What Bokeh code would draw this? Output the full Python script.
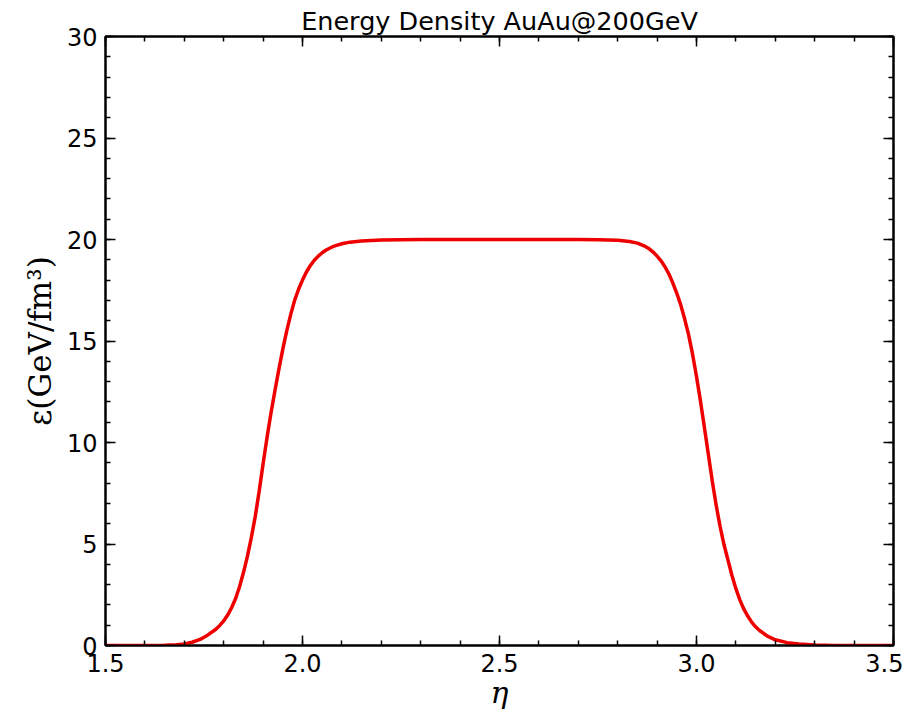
from bokeh.plotting import figure
from bokeh.models import LinearAxis, SingleIntervalTicker, Range1d, NumeralTickFormatter, CustomJSTickFormatter
from bokeh.embed import file_html
from bokeh.resources import INLINE

eta = [1.50, 1.60, 1.65, 1.68, 1.70, 1.72, 1.74, 1.76, 1.78, 1.79, 1.80, 1.81, 1.82, 1.83,
       1.84, 1.85, 1.86, 1.87, 1.88, 1.89, 1.90, 1.91, 1.92, 1.93, 1.94, 1.95, 1.96, 1.97,
       1.98, 1.99, 2.00, 2.01, 2.02, 2.03, 2.04, 2.05, 2.06, 2.07, 2.08, 2.10, 2.12, 2.15,
       2.20, 2.25, 2.30, 2.50, 2.70, 2.75, 2.80, 2.83, 2.85, 2.87, 2.88, 2.89, 2.90, 2.91,
       2.92, 2.93, 2.94, 2.95, 2.96, 2.97, 2.98, 2.99, 3.00, 3.01, 3.02, 3.03, 3.04, 3.05,
       3.06, 3.07, 3.08, 3.09, 3.10, 3.11, 3.12, 3.13, 3.14, 3.15, 3.16, 3.18, 3.20, 3.23,
       3.26, 3.30, 3.35, 3.50]
energy = [0.0, 0.0, 0.01, 0.04, 0.08, 0.16, 0.30, 0.52, 0.80, 0.99, 1.21, 1.5, 1.86, 2.3,
          2.88, 3.58, 4.38, 5.3, 6.35, 7.6, 8.95, 10.25, 11.45, 12.55, 13.6, 14.6, 15.5, 16.3,
          17.0, 17.55, 18.0, 18.4, 18.72, 18.98, 19.18, 19.35, 19.48, 19.58, 19.67, 19.79, 19.87, 19.93,
          19.97, 19.99, 20.0, 20.0, 20.0, 19.99, 19.96, 19.9, 19.82, 19.66, 19.54, 19.38, 19.18, 18.95,
          18.65, 18.3, 17.85, 17.35, 16.78, 16.08, 15.3, 14.35, 13.25, 12.05, 10.75, 9.42, 8.1, 6.9,
          5.85, 4.95, 4.2, 3.45, 2.8, 2.25, 1.8, 1.45, 1.15, 0.92, 0.74, 0.46, 0.28, 0.14,
          0.07, 0.02, 0.0, 0.0]

title_text = "Energy Density AuAu@200GeV"
x_label = "η"
y_label = "ε(GeV/fm³)"

p = figure(frame_width=788, frame_height=609,
           x_range=Range1d(1.5, 3.5), y_range=Range1d(0, 30),
           output_backend="svg", toolbar_location=None,
           min_border_left=105, min_border_top=36, min_border_right=10, min_border_bottom=58)

p.title.text = title_text
p.title.align = "center"
p.title.text_font = "DejaVu Sans"
p.title.text_font_size = "25.5px"
p.title.text_font_style = "normal"
p.title.text_color = "black"
p.title.standoff = 2

p.xgrid.visible = False
p.ygrid.visible = False
p.outline_line_color = "black"
p.outline_line_width = 2

xt = SingleIntervalTicker(interval=0.5, num_minor_ticks=5)
yt = SingleIntervalTicker(interval=5, num_minor_ticks=5)

def style(ax, labels=True):
    ax.axis_line_color = "black"
    ax.axis_line_width = 2
    ax.major_tick_in = 10
    ax.major_tick_out = 0
    ax.minor_tick_in = 5
    ax.minor_tick_out = 0
    ax.major_tick_line_width = 1.5
    ax.minor_tick_line_width = 1.5
    ax.major_tick_line_color = "black"
    ax.minor_tick_line_color = "black"
    if labels:
        ax.major_label_text_font = "DejaVu Sans"
        ax.major_label_text_font_size = "24px"
        ax.major_label_text_color = "black"
        ax.axis_label_text_color = "black"
    else:
        ax.formatter = CustomJSTickFormatter(code="return '';")
        ax.major_label_standoff = 0

xa = p.xaxis[0]
xa.ticker = xt
xa.formatter = NumeralTickFormatter(format="0.0")
style(xa)
xa.major_label_standoff = 8
xa.axis_label = x_label
xa.axis_label_text_font = "DejaVu Serif"
xa.axis_label_text_font_style = "italic"
xa.axis_label_text_font_size = "30px"
xa.axis_label_standoff = 0

ya = p.yaxis[0]
ya.ticker = yt
style(ya)
ya.major_label_standoff = 8
ya.axis_label = y_label
ya.axis_label_text_font = "DejaVu Serif"
ya.axis_label_text_font_style = "normal"
ya.axis_label_text_font_size = "31px"
ya.axis_label_standoff = 6

top = LinearAxis(ticker=xt)
style(top, labels=False)
p.add_layout(top, "above")
right = LinearAxis(ticker=yt)
style(right, labels=False)
p.add_layout(right, "right")

p.line(eta, energy, line_color="#ee0000", line_width=3.5)

open("out.html", "w").write(file_html(p, INLINE))
